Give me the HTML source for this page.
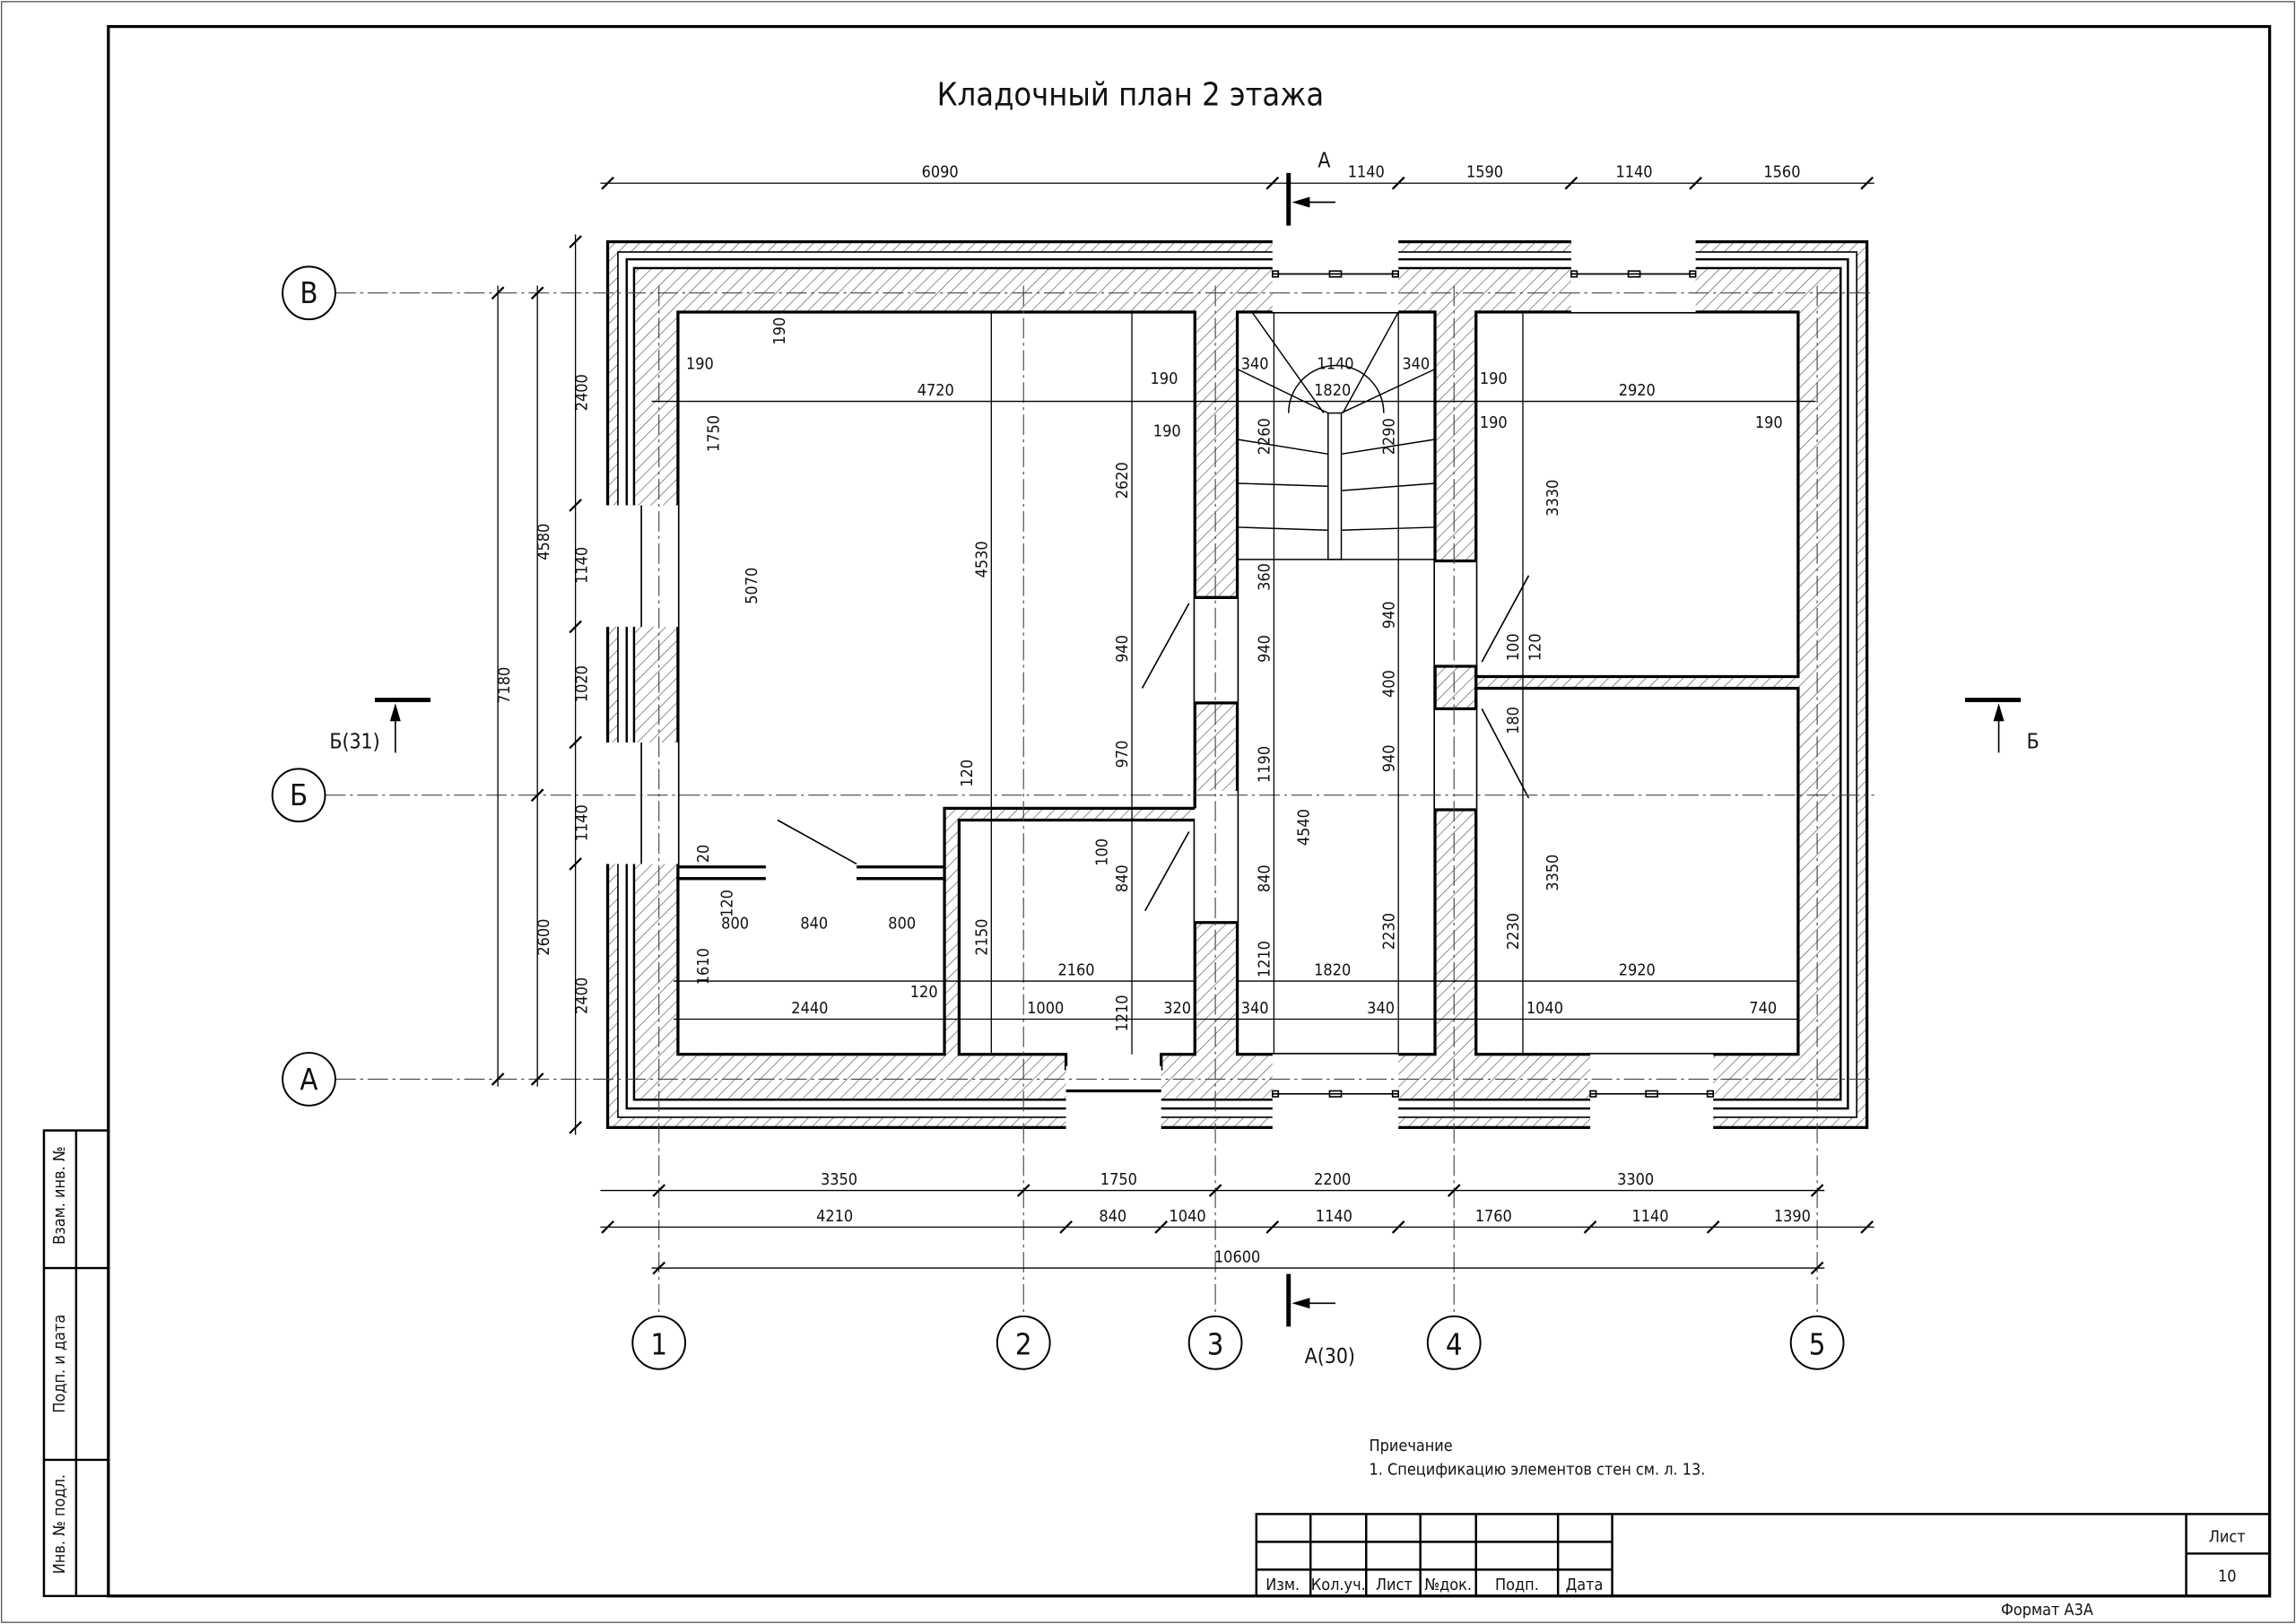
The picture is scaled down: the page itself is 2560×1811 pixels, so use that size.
<!DOCTYPE html>
<html><head><meta charset="utf-8"><style>
html,body{margin:0;padding:0;background:#fff}
svg{display:block}
text{font-family:"DejaVu Sans Condensed","Liberation Sans",sans-serif;fill:#111}
</style></head><body>
<svg width="2560" height="1811" viewBox="0 0 1568 1109" xmlns="http://www.w3.org/2000/svg">
<defs>
<pattern id="h" width="6" height="6" patternUnits="userSpaceOnUse" patternTransform="rotate(45)">
<line x1="0" y1="0" x2="0" y2="6" stroke="#555" stroke-width="0.8"/></pattern>
</defs>
<rect x="0" y="0" width="1568" height="1109" fill="#fff"/>
<rect x="1" y="1" width="1566" height="1107" fill="none" stroke="#555" stroke-width="0.8"/>
<rect x="74" y="18" width="1476" height="1072" fill="none" stroke="#000" stroke-width="2"/>
<g stroke="#000" stroke-width="1.5" fill="none">
<rect x="30" y="772" width="44" height="318"/>
<line x1="52" y1="772" x2="52" y2="1090"/>
<line x1="30" y1="866" x2="74" y2="866"/>
<line x1="30" y1="997" x2="74" y2="997"/>
</g>
<g font-size="11">
<text transform="translate(44,850) rotate(-90)">Взам. инв. №</text>
<text transform="translate(44,965) rotate(-90)">Подп. и дата</text>
<text transform="translate(44,1075) rotate(-90)">Инв. № подл.</text>
</g>
<text x="772" y="72" font-size="22" text-anchor="middle">Кладочный план 2 этажа</text>

<g>
<rect x="415" y="165" width="860" height="605" fill="url(#h)" stroke="#000" stroke-width="2"/>
<rect x="422" y="172" width="846" height="591" fill="#fff" stroke="#000" stroke-width="1"/>
<rect x="428" y="177" width="834" height="580" fill="none" stroke="#000" stroke-width="1.5"/>
<rect x="433" y="183" width="824" height="568" fill="url(#h)" stroke="#000" stroke-width="1.5"/>
<g fill="#fff" stroke="#000" stroke-width="2">
<path d="M463 213 H816 V552 H645 V600 H463 Z"/>
<rect x="463" y="600" width="182" height="120"/>
<path d="M655 560 H816 V720 H793 V730 H728 V720 H655 Z"/>
<rect x="845" y="213" width="135" height="507"/>
<rect x="1008" y="213" width="220" height="249"/>
<rect x="1008" y="470" width="220" height="250"/>
</g>
<g fill="#fff">
<rect x="816" y="408" width="29" height="72"/>
<rect x="816" y="540" width="29" height="90"/>
<rect x="980" y="383" width="28" height="72"/>
<rect x="980" y="484" width="28" height="69"/>
<rect x="869" y="160" width="86" height="53"/>
<rect x="1073" y="160" width="85" height="53"/>
<rect x="869" y="720" width="86" height="55"/>
<rect x="1086" y="720" width="84" height="55"/>
<rect x="410" y="345" width="53" height="83"/>
<rect x="410" y="507" width="53" height="83"/>
<rect x="728" y="728" width="65" height="47"/>
<rect x="523" y="592" width="62" height="12"/>
</g>
<g stroke="#000" stroke-width="2" fill="none">
<path d="M816 408 H845 M816 480 H845 M816 540 V552 M816 630 H845"/>
<path d="M980 383 H1008 M980 455 H1008 V484 H980 V455 M980 553 H1008"/>
<path d="M463 592 H523 M585 592 H645"/>
<path d="M728 745 H793"/>
</g>
<g stroke="#000" stroke-width="1" fill="none">
<line x1="869" y1="187" x2="955" y2="187"/><line x1="1073" y1="187" x2="1158" y2="187"/>
<line x1="869" y1="747" x2="955" y2="747"/><line x1="1086" y1="747" x2="1170" y2="747"/>
<line x1="438" y1="345" x2="438" y2="428"/><line x1="438" y1="507" x2="438" y2="590"/>
<rect x="869" y="185" width="4" height="4"/><rect x="951" y="185" width="4" height="4"/><rect x="908" y="185" width="8" height="4"/>
<rect x="1073" y="185" width="4" height="4"/><rect x="1154" y="185" width="4" height="4"/><rect x="1112" y="185" width="8" height="4"/>
<rect x="869" y="745" width="4" height="4"/><rect x="951" y="745" width="4" height="4"/><rect x="908" y="745" width="8" height="4"/>
<rect x="1086" y="745" width="4" height="4"/><rect x="1166" y="745" width="4" height="4"/><rect x="1124" y="745" width="8" height="4"/>
<line x1="780" y1="470" x2="812" y2="412"/><line x1="782" y1="622" x2="812" y2="568"/>
<line x1="1012" y1="452" x2="1044" y2="393"/><line x1="1012" y1="484" x2="1044" y2="545"/>
<line x1="531" y1="560" x2="585" y2="590"/>
</g>
<g stroke="#000" stroke-width="0.9" fill="none">
<rect x="907" y="282" width="9" height="100"/>
<line x1="845" y1="382" x2="980" y2="382"/>
<path d="M845 252 L907 282 M980 252 L916 282 M855 213 L904 282 M955 213 L917 282"/>
<path d="M845 300 L907 310 M845 330 L907 332 M845 360 L907 362 M916 310 L980 300 M916 335 L980 330 M916 362 L980 360"/>
<path d="M880 282 A30 30 0 0 1 945 282"/>
</g>
<g stroke="#444" stroke-width="0.7" stroke-dasharray="14,3,2,3" fill="none">
<line x1="229" y1="200" x2="1280" y2="200"/><line x1="222" y1="543" x2="1280" y2="543"/><line x1="229" y1="737" x2="1280" y2="737"/>
<line x1="450" y1="195" x2="450" y2="899"/><line x1="699" y1="195" x2="699" y2="899"/><line x1="830" y1="195" x2="830" y2="899"/><line x1="993" y1="195" x2="993" y2="899"/><line x1="1241" y1="195" x2="1241" y2="899"/>
</g>
</g>

<g stroke="#000" stroke-width="0.8" fill="none">
<line x1="410" y1="125" x2="1280" y2="125"/>
<line x1="410" y1="813" x2="1246" y2="813"/>
<line x1="410" y1="838" x2="1280" y2="838"/>
<line x1="445" y1="866" x2="1246" y2="866"/>
<line x1="340" y1="195" x2="340" y2="742"/>
<line x1="367" y1="195" x2="367" y2="742"/>
<line x1="393" y1="160" x2="393" y2="775"/>
<line x1="445" y1="274" x2="1240" y2="274"/>
<line x1="677" y1="213" x2="677" y2="720"/>
<line x1="870" y1="213" x2="870" y2="720"/>
<line x1="955" y1="213" x2="955" y2="720"/>
<line x1="1040" y1="213" x2="1040" y2="720"/>
<line x1="773" y1="213" x2="773" y2="720"/>
<line x1="460" y1="670" x2="816" y2="670"/>
<line x1="845" y1="670" x2="1228" y2="670"/>
<line x1="460" y1="696" x2="1228" y2="696"/>
</g>
<g stroke="#000" stroke-width="1.4">
<path d="M411 129 l8 -8 M865 129 l8 -8 M951 129 l8 -8 M1069 129 l8 -8 M1154 129 l8 -8 M1271 129 l8 -8"/>
<path d="M446 817 l8 -8 M695 817 l8 -8 M826 817 l8 -8 M989 817 l8 -8 M1237 817 l8 -8"/>
<path d="M411 842 l8 -8 M724 842 l8 -8 M789 842 l8 -8 M865 842 l8 -8 M951 842 l8 -8 M1082 842 l8 -8 M1166 842 l8 -8 M1271 842 l8 -8"/>
<path d="M446 870 l8 -8 M1237 870 l8 -8"/>
<path d="M336 204 l8 -8 M336 741 l8 -8 M363 204 l8 -8 M363 547 l8 -8 M363 741 l8 -8"/>
<path d="M389 169 l8 -8 M389 349 l8 -8 M389 432 l8 -8 M389 511 l8 -8 M389 594 l8 -8 M389 774 l8 -8"/>
</g>
<g font-size="11" text-anchor="middle">
<text x="642" y="121">6090</text><text x="933" y="121">1140</text><text x="1014" y="121">1590</text><text x="1116" y="121">1140</text><text x="1217" y="121">1560</text>
<text x="573" y="809">3350</text><text x="764" y="809">1750</text><text x="910" y="809">2200</text><text x="1117" y="809">3300</text>
<text x="570" y="834">4210</text><text x="760" y="834">840</text><text x="811" y="834">1040</text><text x="911" y="834">1140</text><text x="1020" y="834">1760</text><text x="1127" y="834">1140</text><text x="1224" y="834">1390</text>
<text x="845" y="862">10600</text>
<text x="639" y="270">4720</text><text x="910" y="270">1820</text><text x="1118" y="270">2920</text>
<text x="912" y="252">1140</text><text x="857" y="252">340</text><text x="967" y="252">340</text>
<text x="478" y="252">190</text><text x="795" y="262">190</text><text x="797" y="298">190</text><text x="1020" y="262">190</text><text x="1020" y="292">190</text><text x="1208" y="292">190</text>
<text x="553" y="692">2440</text><text x="735" y="666">2160</text><text x="910" y="666">1820</text><text x="1118" y="666">2920</text>
<text x="714" y="692">1000</text><text x="804" y="692">320</text><text x="857" y="692">340</text><text x="943" y="692">340</text><text x="1055" y="692">1040</text><text x="1204" y="692">740</text>
<text x="502" y="634">800</text><text x="556" y="634">840</text><text x="616" y="634">800</text><text x="631" y="681">120</text>
</g>
<g font-size="11" text-anchor="middle">
<text transform="translate(348,468) rotate(-90)">7180</text>
<text transform="translate(375,370) rotate(-90)">4580</text>
<text transform="translate(375,640) rotate(-90)">2600</text>
<text transform="translate(401,268) rotate(-90)">2400</text>
<text transform="translate(401,386) rotate(-90)">1140</text>
<text transform="translate(401,467) rotate(-90)">1020</text>
<text transform="translate(401,562) rotate(-90)">1140</text>
<text transform="translate(401,680) rotate(-90)">2400</text>
<text transform="translate(491,296) rotate(-90)">1750</text>
<text transform="translate(517,400) rotate(-90)">5070</text>
<text transform="translate(674,382) rotate(-90)">4530</text>
<text transform="translate(674,640) rotate(-90)">2150</text>
<text transform="translate(770,328) rotate(-90)">2620</text>
<text transform="translate(770,443) rotate(-90)">940</text>
<text transform="translate(770,515) rotate(-90)">970</text>
<text transform="translate(770,600) rotate(-90)">840</text>
<text transform="translate(770,692) rotate(-90)">1210</text>
<text transform="translate(867,298) rotate(-90)">2260</text>
<text transform="translate(867,394) rotate(-90)">360</text>
<text transform="translate(867,443) rotate(-90)">940</text>
<text transform="translate(867,522) rotate(-90)">1190</text>
<text transform="translate(867,600) rotate(-90)">840</text>
<text transform="translate(867,655) rotate(-90)">1210</text>
<text transform="translate(894,565) rotate(-90)">4540</text>
<text transform="translate(952,298) rotate(-90)">2290</text>
<text transform="translate(952,420) rotate(-90)">940</text>
<text transform="translate(952,467) rotate(-90)">400</text>
<text transform="translate(952,518) rotate(-90)">940</text>
<text transform="translate(952,636) rotate(-90)">2230</text>
<text transform="translate(1037,636) rotate(-90)">2230</text>
<text transform="translate(1037,442) rotate(-90)">100</text>
<text transform="translate(1052,442) rotate(-90)">120</text>
<text transform="translate(1037,492) rotate(-90)">180</text>
<text transform="translate(1064,340) rotate(-90)">3330</text>
<text transform="translate(1064,596) rotate(-90)">3350</text>
<text transform="translate(484,660) rotate(-90)">1610</text>
<text transform="translate(484,583) rotate(-90)">20</text>
<text transform="translate(500,617) rotate(-90)">120</text>
<text transform="translate(536,226) rotate(-90)">190</text>
<text transform="translate(664,528) rotate(-90)">120</text>
<text transform="translate(756,582) rotate(-90)">100</text>
</g>

<g stroke="#000" stroke-width="1.2" fill="#fff">
<circle cx="211" cy="200" r="18"/><circle cx="204" cy="543" r="18"/><circle cx="211" cy="737" r="18"/>
<circle cx="450" cy="917" r="18"/><circle cx="699" cy="917" r="18"/><circle cx="830" cy="917" r="18"/><circle cx="993" cy="917" r="18"/><circle cx="1241" cy="917" r="18"/>
</g>
<g font-size="20" text-anchor="middle">
<text x="211" y="207">В</text><text x="204" y="550">Б</text><text x="211" y="744">А</text>
<text x="450" y="925">1</text><text x="699" y="925">2</text><text x="830" y="925">3</text><text x="993" y="925">4</text><text x="1241" y="925">5</text>
</g>

<g stroke="#000" fill="#000">
<line x1="880" y1="118" x2="880" y2="154" stroke-width="3"/>
<line x1="884" y1="138" x2="912" y2="138" stroke-width="1"/><path d="M884 138 l10 -3 v6 z"/>
<line x1="880" y1="870" x2="880" y2="906" stroke-width="3"/>
<line x1="884" y1="890" x2="912" y2="890" stroke-width="1"/><path d="M884 890 l10 -3 v6 z"/>
<line x1="256" y1="478" x2="294" y2="478" stroke-width="3"/>
<line x1="270" y1="482" x2="270" y2="514" stroke-width="1"/><path d="M270 482 l-3 10 h6 z"/>
<line x1="1342" y1="478" x2="1380" y2="478" stroke-width="3"/>
<line x1="1365" y1="482" x2="1365" y2="514" stroke-width="1"/><path d="M1365 482 l-3 10 h6 z"/>
</g>
<g font-size="14">
<text x="900" y="114">А</text><text x="891" y="931">А(30)</text>
<text x="225" y="511">Б(31)</text><text x="1384" y="511">Б</text>
</g>

<text x="935" y="991" font-size="11">Приечание</text>
<text x="935" y="1007" font-size="11">1. Спецификацию элементов стен см. л. 13.</text>

<g stroke="#000" stroke-width="1.5" fill="none">
<rect x="858" y="1034" width="692" height="56"/>
<path d="M895 1034 V1090 M933 1034 V1090 M970 1034 V1090 M1008 1034 V1090 M1064 1034 V1090 M1101 1034 V1090 M1493 1034 V1090"/>
<path d="M858 1053 H1101 M858 1072 H1101 M1493 1061 H1550"/>
</g>
<g font-size="11" text-anchor="middle">
<text x="876" y="1086">Изм.</text><text x="914" y="1086">Кол.уч.</text><text x="952" y="1086">Лист</text><text x="989" y="1086">№док.</text><text x="1036" y="1086">Подп.</text><text x="1082" y="1086">Дата</text>
<text x="1521" y="1053">Лист</text><text x="1521" y="1080">10</text>
<text x="1398" y="1103">Формат А3А</text>
</g>
</svg>
</body></html>
